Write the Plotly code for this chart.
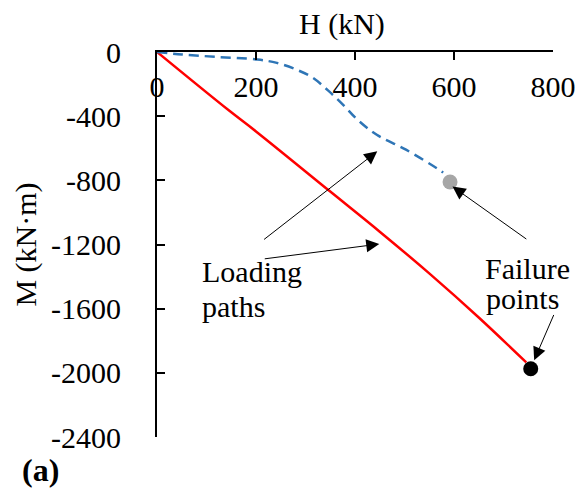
import plotly.graph_objects as go

# ---- data ----
H_red = [0, 143, 200, 350, 450, 550, 650, 746]
M_red = [0, -359, -495, -870, -1120, -1380, -1655, -1935]

H_blue = [0, 51, 118, 203, 242, 281, 314, 346, 379, 405, 444, 503, 570, 578]
M_blue = [0, -16, -30, -47, -68, -109, -159, -241, -339, -422, -516, -609, -734, -752]

H_fail = [592, 755]
M_fail = [-810, -1975]
fail_colors = ["#A6A6A6", "#000000"]

x_tickvals = [0, 200, 400, 600, 800]
x_ticktext = ["0", "200", "400", "600", "800"]
y_tickvals = [0, -400, -800, -1200, -1600, -2000, -2400]
y_ticktext = ["0", "-400", "-800", "-1200", "-1600", "-2000", "-2400"]

FONT = "'Liberation Serif', 'Times New Roman', serif"
W, Hh = 588, 496
L, R, T, B = 157, 24, 52, 59


def px2paper(px, py):
    pw = W - L - R
    ph = Hh - T - B
    return (px - L) / pw, (Hh - B - py) / ph


fig = go.Figure()
fig.add_trace(go.Scatter(x=H_red, y=M_red, mode="lines",
                         line=dict(color="#FF0000", width=2.5, shape="spline",
                                   smoothing=1.0),
                         showlegend=False))
fig.add_trace(go.Scatter(x=H_blue, y=M_blue, mode="lines",
                         line=dict(color="#2E75B6", width=2.5, dash="10px,6px",
                                   shape="spline", smoothing=1.0),
                         showlegend=False))
fig.add_trace(go.Scatter(x=H_fail, y=M_fail, mode="markers",
                         marker=dict(color=fail_colors, size=15), showlegend=False))

annots = []
# text labels
for txt, px, py in [("Loading", 200.7, 271.5), ("paths", 201.7, 306.5),
                    ("Failure", 491.7, 268), ("points", 492.7, 298)]:
    xp, yp = px2paper(px, py)
    annots.append(dict(text=txt, x=xp, y=yp, xref="paper", yref="paper",
                       xanchor="left", yanchor="middle", showarrow=False,
                       font=dict(family=FONT, size=30, color="black")))

# arrows: tip in data coords, tail as pixel offsets
arrows = [
    (445, -619, -114.7, 89.3),
    (449, -1197, -116, 15),
    (597, -839, 75.3, 53.5),
    (762, -1921, 20.2, -46.7),
]
for x, y, ax, ay in arrows:
    annots.append(dict(x=x, y=y, xref="x", yref="y", ax=ax, ay=ay, text="",
                       showarrow=True, arrowhead=2, arrowsize=2.6, arrowwidth=1,
                       arrowcolor="black", standoff=0))

# x-axis title
xp, yp = px2paper(346.7, 24)
annots.append(dict(text="H (kN)", x=xp, y=yp, xref="paper", yref="paper",
                   xanchor="center", yanchor="middle", showarrow=False,
                   font=dict(family=FONT, size=30, color="black")))
# panel label
xp, yp = px2paper(37.5, 469.5)
annots.append(dict(text="<b>(a)</b>", x=xp, y=yp, xref="paper", yref="paper",
                   xanchor="center", yanchor="middle", showarrow=False,
                   font=dict(family=FONT, size=32, color="black")))

fig.update_layout(
    width=W, height=Hh,
    margin=dict(l=L, r=R, t=T, b=B),
    paper_bgcolor="white", plot_bgcolor="white",
    font=dict(family=FONT, size=30, color="black"),
    annotations=annots,
    xaxis=dict(range=[0, 800], side="top", showline=True, linecolor="black",
               linewidth=2, ticks="inside", ticklen=8, tickwidth=2,
               tickcolor="black", tickvals=x_tickvals, ticktext=x_ticktext,
               ticklabelposition="inside", ticklabeloverflow="allow",
               ticklabelstandoff=19,
               showgrid=False, zeroline=False,
               tickfont=dict(family=FONT, size=30, color="black")),
    yaxis=dict(range=[-2400, 0], showline=True, linecolor="black", linewidth=2,
               ticks="inside", ticklen=8, tickwidth=2, tickcolor="black",
               tickvals=y_tickvals, ticktext=y_ticktext, ticklabelstandoff=28,
               showgrid=False, zeroline=False,
               tickfont=dict(family=FONT, size=30, color="black"),
               title=dict(text="M (kN·m)", standoff=6,
                          font=dict(family=FONT, size=30, color="black"))),
)

fig.write_html("out.html")
